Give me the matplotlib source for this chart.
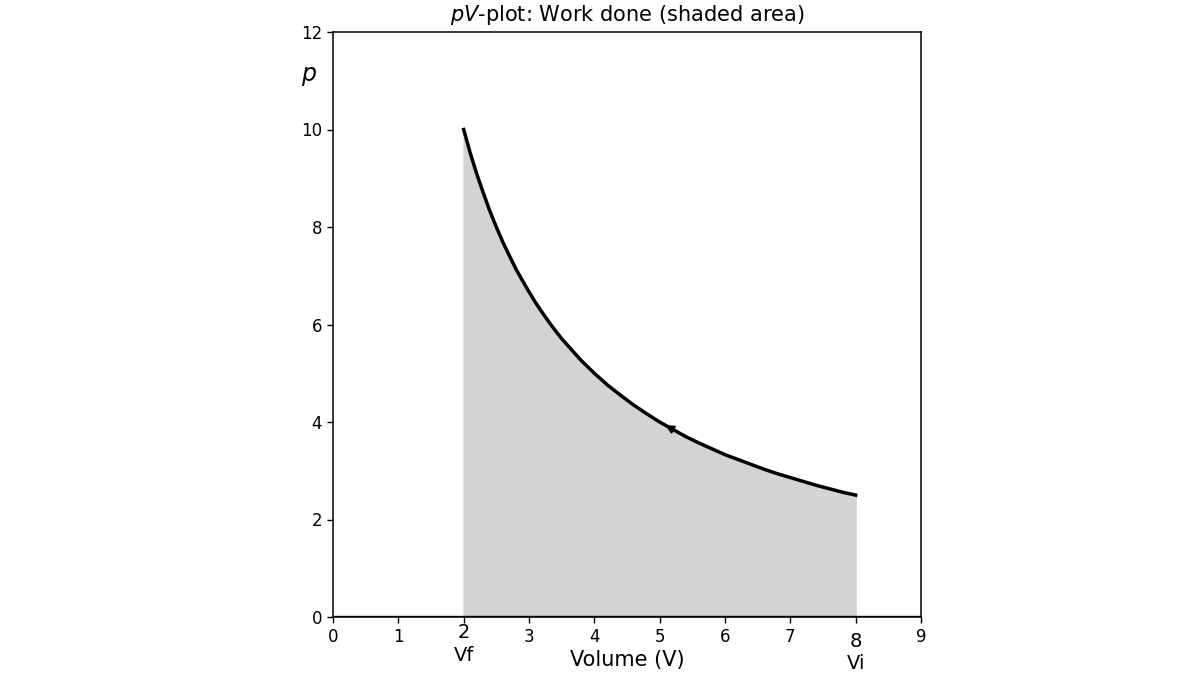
import matplotlib
matplotlib.use("Agg")
import numpy as np
import matplotlib.pyplot as plt

# isotherm (volume, pressure)
volume = [2.0, 2.1, 2.2, 2.3, 2.4, 2.5, 2.6, 2.7, 2.8, 2.9, 3.0, 3.1, 3.2,
          3.3, 3.4, 3.5, 3.6, 3.7, 3.8, 3.9, 4.0, 4.2, 4.4, 4.6, 4.8,
          5.0, 5.2, 5.4, 5.6, 5.8, 6.0, 6.2, 6.4, 6.6, 6.8, 7.0, 7.2,
          7.4, 7.6, 7.8, 8.0]
pressure = [10.0, 9.52, 9.09, 8.7, 8.33, 8.0, 7.69, 7.41, 7.14, 6.9, 6.67,
            6.45, 6.25, 6.06, 5.88, 5.71, 5.56, 5.41, 5.26, 5.13, 5.0, 4.76,
            4.55, 4.35, 4.17, 4.0, 3.85, 3.7, 3.57, 3.45, 3.33, 3.23, 3.13,
            3.03, 2.94, 2.86, 2.78, 2.7, 2.63, 2.56, 2.5]

x_ticks = [0, 1, 2, 3, 4, 5, 6, 7, 8, 9]
x_tick_labels = ["0", "1", "", "3", "4", "5", "6", "7", "", "9"]
y_ticks = [0, 2, 4, 6, 8, 10, 12]
v_final, v_initial = 2, 8
arrow_from, arrow_to = 5.2, 5.05

fig = plt.figure(figsize=(12, 6.75), dpi=100)
ax = fig.add_axes([333 / 1200, 1 - 617 / 675, 588 / 1200, 585 / 675])

ax.fill_between(volume, pressure, 0, color="lightgray")
ax.plot(volume, pressure, color="black", lw=2.5, solid_joinstyle="round")
ax.axhline(0, color="black", lw=2.4)

p_from = np.interp(arrow_from, volume, pressure)
p_to = np.interp(arrow_to, volume, pressure)
ax.annotate("", xy=(arrow_to, p_to), xytext=(arrow_from, p_from),
            arrowprops=dict(arrowstyle="-|>", color="black", lw=1.5,
                            mutation_scale=12))

ax.set_xlim(0, 9)
ax.set_ylim(0, 12)
ax.set_xticks(x_ticks)
ax.set_xticklabels(x_tick_labels)
ax.set_yticks(y_ticks)
ax.tick_params(labelsize=12, length=4.5, width=1)
for s in ax.spines.values():
    s.set_linewidth(1.1)

ax.text(v_final, -0.12, "2\nVf", ha="center", va="top", fontsize=14,
        linespacing=1.25)
ax.text(v_initial, -0.3, "8\nVi", ha="center", va="top", fontsize=14,
        linespacing=1.25)

ax.set_xlabel("Volume (V)", fontsize=15, labelpad=3)
ax.set_ylabel("$p$", fontsize=17, rotation=0)
ax.yaxis.set_label_coords(-0.04, 0.905)
ax.set_title("$pV$-plot: Work done (shaded area)", fontsize=15, pad=8)

fig.savefig("out.png", dpi=100)
